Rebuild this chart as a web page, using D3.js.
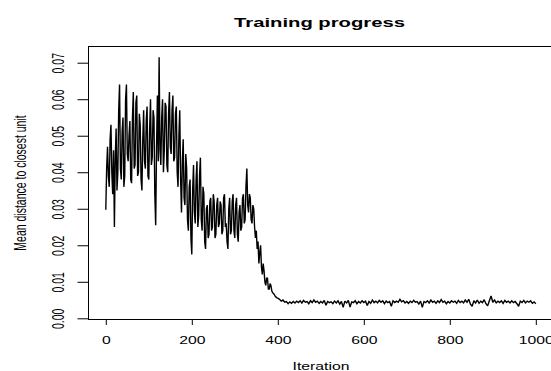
<!DOCTYPE html>
<html>
<head>
<meta charset="utf-8">
<script src="https://cdn.jsdelivr.net/npm/d3@7"></script>
<style>
  html, body { margin: 0; padding: 0; background: #fff; }
  svg { display: block; }
  text { font-family: "Liberation Sans", Arial, sans-serif; fill: #000; }
</style>
</head>
<body>
<div id="app"></div>
<script>
// ----- Data -----

const chartTitle = "Training progress";
const xTitle = "Iteration";
const yTitle = "Mean distance to closest unit";

const xTicks = [0, 200, 400, 600, 800, 1000];
const yTicks = [0, 0.01, 0.02, 0.03, 0.04, 0.05, 0.06, 0.07];

// noisy start: one value every 2 iterations, 0..398
const earlyStep = 2;
const earlyDistance = [
    0.0297, 0.041, 0.047, 0.039, 0.036, 0.049, 0.053, 0.040, 0.034, 0.046,
    0.025, 0.044, 0.052, 0.035, 0.040, 0.057, 0.064, 0.041, 0.038, 0.051,
    0.055, 0.036, 0.039, 0.060, 0.064, 0.045, 0.043, 0.050, 0.054, 0.038,
    0.037, 0.055, 0.062, 0.041, 0.042, 0.059, 0.061, 0.039, 0.040, 0.056,
    0.053, 0.038, 0.035, 0.049, 0.057, 0.043, 0.041, 0.054, 0.058, 0.039,
    0.038, 0.052, 0.060, 0.042, 0.044, 0.057, 0.055, 0.034, 0.0255, 0.047,
    0.061, 0.043, 0.0715, 0.046, 0.042, 0.055, 0.060, 0.040, 0.046, 0.059,
    0.058, 0.042, 0.040, 0.056, 0.062, 0.047, 0.045, 0.057, 0.061, 0.043,
    0.044, 0.056, 0.058, 0.040, 0.036, 0.050, 0.057, 0.038, 0.029, 0.043,
    0.049, 0.033, 0.031, 0.045, 0.041, 0.027, 0.024, 0.036, 0.038, 0.022,
    0.0175, 0.035, 0.042, 0.029, 0.026, 0.038, 0.043, 0.025, 0.028, 0.039,
    0.044, 0.027, 0.024, 0.036, 0.034, 0.021, 0.019, 0.030, 0.031, 0.022,
    0.023, 0.032, 0.033, 0.024, 0.025, 0.034, 0.032, 0.022, 0.023, 0.031,
    0.033, 0.025, 0.026, 0.032, 0.031, 0.023, 0.024, 0.033, 0.034, 0.025,
    0.026, 0.021, 0.019, 0.030, 0.033, 0.023, 0.024, 0.032, 0.034, 0.024,
    0.022, 0.031, 0.033, 0.023, 0.021, 0.029, 0.031, 0.024, 0.025, 0.033,
    0.034, 0.026, 0.027, 0.036, 0.041, 0.031, 0.029, 0.034, 0.033, 0.027,
    0.026, 0.031, 0.030, 0.025, 0.022, 0.024, 0.019, 0.021, 0.015, 0.018,
    0.020, 0.014, 0.012, 0.015, 0.013, 0.010, 0.009, 0.011, 0.011, 0.008,
    0.008, 0.0095, 0.009, 0.0075, 0.007, 0.0068, 0.0065, 0.0060, 0.0058, 0.0056
];

// settled phase: one value every 4 iterations, 400..1000
const lateStart = 400;
const lateStep = 4;
const lateDistance = [
    0.0055, 0.0052, 0.0047, 0.0050, 0.0044, 0.0046, 0.0040, 0.0045, 0.0041, 0.0046,
    0.0042, 0.0047, 0.0043, 0.0048, 0.0042, 0.0049, 0.0044, 0.0046, 0.0040, 0.0048,
    0.0043, 0.0050, 0.0044, 0.0047, 0.0041, 0.0046, 0.0042, 0.0049, 0.0036, 0.0046,
    0.0043, 0.0045, 0.0040, 0.0047, 0.0042, 0.0048, 0.0039, 0.0046, 0.0030, 0.0047,
    0.0042, 0.0049, 0.0031, 0.0045, 0.0043, 0.0048, 0.0040, 0.0046, 0.0042, 0.0048,
    0.0043, 0.0047, 0.0035, 0.0046, 0.0041, 0.0050, 0.0043, 0.0047, 0.0042, 0.0049,
    0.0044, 0.0048, 0.0040, 0.0047, 0.0043, 0.0046, 0.0033, 0.0048, 0.0043, 0.0047,
    0.0044, 0.0052, 0.0045, 0.0048, 0.0042, 0.0046, 0.0041, 0.0047, 0.0043, 0.0049,
    0.0044, 0.0046, 0.0039, 0.0047, 0.0030, 0.0046, 0.0043, 0.0048, 0.0042, 0.0050,
    0.0044, 0.0047, 0.0041, 0.0048, 0.0043, 0.0051, 0.0044, 0.0047, 0.0040, 0.0046,
    0.0042, 0.0048, 0.0044, 0.0047, 0.0041, 0.0049, 0.0043, 0.0047, 0.0042, 0.0050,
    0.0044, 0.0052, 0.0039, 0.0033, 0.0048, 0.0042, 0.0050, 0.0041, 0.0047, 0.0043,
    0.0051, 0.0040, 0.0034, 0.0048, 0.0061, 0.0044, 0.0050, 0.0042, 0.0047, 0.0043,
    0.0048, 0.0041, 0.0049, 0.0044, 0.0047, 0.0042, 0.0048, 0.0043, 0.0046, 0.0040,
    0.0033, 0.0047, 0.0043, 0.0049, 0.0042, 0.0047, 0.0044, 0.0048, 0.0041, 0.0045,
    0.0040
];

// ----- Layout -----

const Width = 551;
const Height = 371;
const Box = { left: 88.5, right: 553, top: 46.5, bottom: 319.5 };
const TextStretch = 1.5;   // reference text is wider than it is tall
const AxisFont = 10.5;
const TitleFont = 13.5;

function main() {
    const app = d3.select("#app");

    const svg = app.append("svg")
        .attr("width", Width)
        .attr("height", Height);

    // scales
    const xScale = d3.scaleLinear()
        .domain([0, 1000])
        .range([105.8, 535.8]);

    const yScale = d3.scaleLinear()
        .domain([0, 0.07])
        .range([318.3, 62.7]);

    // data line
    const points = earlyDistance.map((v, i) => [i * earlyStep, v])
        .concat(lateDistance.map((v, i) => [lateStart + i * lateStep, v]));

    const line = d3.line()
        .x(d => xScale(d[0]))
        .y(d => yScale(d[1]));

    svg.append("path")
        .datum(points)
        .attr("fill", "none")
        .attr("stroke", "#000")
        .attr("stroke-width", 1.4)
        .attr("stroke-linejoin", "miter")
        .attr("stroke-miterlimit", 2)
        .attr("d", line);

    // box
    svg.append("rect")
        .attr("x", Box.left)
        .attr("y", Box.top)
        .attr("width", Box.right - Box.left)
        .attr("height", Box.bottom - Box.top)
        .attr("fill", "none")
        .attr("stroke", "#000")
        .attr("stroke-width", 1);

    // x axis
    const axisBottom = d3.axisBottom(xScale)
        .tickValues(xTicks)
        .tickSize(5.5)
        .tickSizeOuter(0)
        .tickFormat(d3.format("d"));

    const gx = svg.append("g")
        .attr("transform", `translate(0, ${Box.bottom})`)
        .call(axisBottom);
    gx.select(".domain").remove();
    gx.selectAll(".tick line").attr("stroke", "#000");
    gx.selectAll(".tick text")
        .attr("y", null)
        .attr("dy", null)
        .attr("fill", "#000")
        .style("font-size", AxisFont + "px")
        .style("font-family", "Liberation Sans, Arial, sans-serif")
        .attr("transform", `translate(0, ${344 - Box.bottom}) scale(${TextStretch}, 1)`);

    // y axis
    const axisLeft = d3.axisLeft(yScale)
        .tickValues(yTicks)
        .tickSize(10.5)
        .tickSizeOuter(0)
        .tickFormat(d3.format(".2f"));

    const gy = svg.append("g")
        .attr("transform", `translate(${Box.left - 0.5}, 0)`)
        .call(axisLeft);
    gy.select(".domain").remove();
    gy.selectAll(".tick line").attr("stroke", "#000");
    gy.selectAll(".tick text")
        .attr("x", null)
        .attr("dy", null)
        .attr("fill", "#000")
        .attr("text-anchor", "middle")
        .style("font-size", AxisFont + "px")
        .style("font-family", "Liberation Sans, Arial, sans-serif")
        .attr("transform", `translate(${63.5 - Box.left + 0.5}, 0) scale(${TextStretch}, 1) rotate(-90)`);

    // titles
    svg.append("text")
        .attr("text-anchor", "middle")
        .attr("font-weight", "bold")
        .style("font-size", TitleFont + "px")
        .attr("transform", `translate(319.5, 26.5) scale(${TextStretch}, 1)`)
        .text(chartTitle);

    svg.append("text")
        .attr("text-anchor", "middle")
        .style("font-size", AxisFont + "px")
        .attr("transform", `translate(321, 369.5) scale(${TextStretch}, 1)`)
        .text(xTitle);

    svg.append("text")
        .attr("text-anchor", "middle")
        .style("font-size", AxisFont + "px")
        .attr("transform", `translate(25.5, 183) scale(${TextStretch}, 1) rotate(-90)`)
        .text(yTitle);
}

main();
</script>
</body>
</html>
